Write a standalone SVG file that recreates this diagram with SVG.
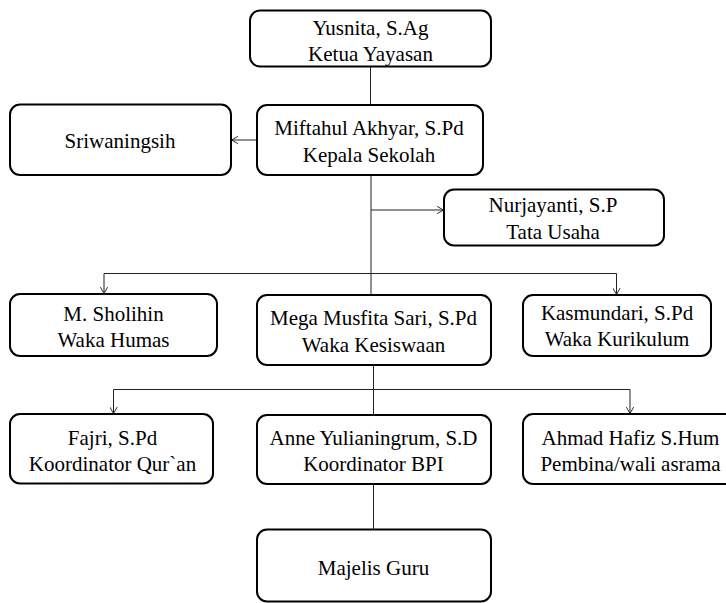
<svg xmlns="http://www.w3.org/2000/svg" width="726" height="603" viewBox="0 0 726 603">
  <defs>
    <style>
      .box { fill: #ffffff; stroke: #000000; stroke-width: 2; }
      .lbl { font-family: "Liberation Serif", "Times New Roman", serif; font-size: 21px; fill: #000000; text-anchor: middle; }
      .con { fill: none; stroke: #222222; stroke-width: 1; }
    </style>
    <marker id="arrow" viewBox="0 0 10 10" refX="9" refY="5" markerWidth="8" markerHeight="8" markerUnits="userSpaceOnUse" orient="auto">
      <path d="M1,0.5 L9,5 L1,9.5" fill="none" stroke="#222222" stroke-width="1.2"/>
    </marker>
  </defs>
  <rect width="726" height="603" fill="#ffffff"/>

  <g id="connectors">
    <line class="con" x1="370.5" y1="66.5" x2="370.5" y2="105"/>
    <line class="con" x1="257" y1="140" x2="231.5" y2="140" marker-end="url(#arrow)"/>
    <line class="con" x1="371" y1="175" x2="371" y2="295"/>
    <line class="con" x1="371" y1="210" x2="443.5" y2="210" marker-end="url(#arrow)"/>
    <line class="con" x1="104" y1="273.5" x2="616.5" y2="273.5"/>
    <line class="con" x1="104" y1="273.5" x2="104" y2="293.5" marker-end="url(#arrow)"/>
    <line class="con" x1="616.5" y1="273.5" x2="616.5" y2="294.5" marker-end="url(#arrow)"/>
    <line class="con" x1="373.5" y1="365" x2="373.5" y2="415"/>
    <line class="con" x1="113.5" y1="389.5" x2="630" y2="389.5"/>
    <line class="con" x1="113.5" y1="389.5" x2="113.5" y2="413.5" marker-end="url(#arrow)"/>
    <line class="con" x1="630" y1="389.5" x2="630" y2="413.5" marker-end="url(#arrow)"/>
    <line class="con" x1="373.5" y1="484" x2="373.5" y2="529.5"/>
  </g>

  <g id="yusnita">
    <rect class="box" x="250" y="10.5" width="241" height="56" rx="10"/>
    <text class="lbl" x="370.5" y="35">Yusnita, S.Ag</text>
    <text class="lbl" x="370.5" y="61">Ketua Yayasan</text>
  </g>

  <g id="miftahul">
    <rect class="box" x="257" y="105" width="226" height="70" rx="10"/>
    <text class="lbl" x="369" y="135">Miftahul Akhyar, S.Pd</text>
    <text class="lbl" x="369" y="162">Kepala Sekolah</text>
  </g>

  <g id="sriwaningsih">
    <rect class="box" x="10" y="104.5" width="221" height="70.5" rx="10"/>
    <text class="lbl" x="120" y="148">Sriwaningsih</text>
  </g>

  <g id="nurjayanti">
    <rect class="box" x="444" y="189.5" width="220" height="56" rx="10"/>
    <text class="lbl" x="553" y="211.5">Nurjayanti, S.P</text>
    <text class="lbl" x="553" y="238.5">Tata Usaha</text>
  </g>

  <g id="sholihin">
    <rect class="box" x="10" y="294" width="207" height="62" rx="10"/>
    <text class="lbl" x="113.5" y="320.5">M. Sholihin</text>
    <text class="lbl" x="113.5" y="347">Waka Humas</text>
  </g>

  <g id="mega">
    <rect class="box" x="257" y="295" width="234" height="70" rx="10"/>
    <text class="lbl" x="373.5" y="325">Mega Musfita Sari, S.Pd</text>
    <text class="lbl" x="373.5" y="351.5">Waka Kesiswaan</text>
  </g>

  <g id="kasmundari">
    <rect class="box" x="523" y="295" width="188" height="61" rx="10"/>
    <text class="lbl" x="617" y="319.5">Kasmundari, S.Pd</text>
    <text class="lbl" x="617" y="346">Waka Kurikulum</text>
  </g>

  <g id="fajri">
    <rect class="box" x="10" y="414" width="203" height="69.5" rx="10"/>
    <text class="lbl" x="112.5" y="445">Fajri, S.Pd</text>
    <text class="lbl" x="112.5" y="470.5">Koordinator Qur`an</text>
  </g>

  <g id="anne">
    <rect class="box" x="257" y="415" width="234" height="69" rx="10"/>
    <text class="lbl" x="373.5" y="445">Anne Yulianingrum, S.D</text>
    <text class="lbl" x="373.5" y="470.5">Koordinator BPI</text>
  </g>

  <g id="ahmad">
    <rect class="box" x="523" y="414" width="215" height="70" rx="10"/>
    <text class="lbl" x="630.5" y="445">Ahmad Hafiz S.Hum</text>
    <text class="lbl" x="630.5" y="470.5">Pembina/wali asrama</text>
  </g>

  <g id="majelis">
    <rect class="box" x="257" y="529.5" width="234" height="72" rx="10"/>
    <text class="lbl" x="373.5" y="575">Majelis Guru</text>
  </g>
</svg>
